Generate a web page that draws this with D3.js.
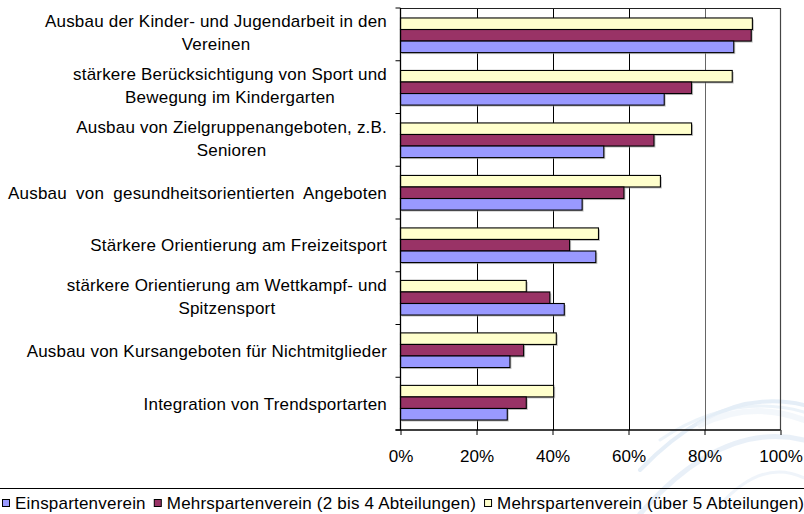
<!DOCTYPE html>
<html><head><meta charset="utf-8">
<script src="https://cdn.jsdelivr.net/npm/d3@7"></script>
<style>
body{margin:0;background:#fff;}
svg text{font-family:"Liberation Sans",Arial,sans-serif;fill:#000;}
</style></head>
<body><svg id="c" width="804" height="514"></svg>
<script>
const categories = [
  ["Ausbau der Kinder- und Jugendarbeit in den","Vereinen"],
  ["stärkere Berücksichtigung von Sport und","Bewegung im Kindergarten"],
  ["Ausbau von Zielgruppenangeboten, z.B.","Senioren"],
  ["Ausbau von gesundheitsorientierten Angeboten"],
  ["Stärkere Orientierung am Freizeitsport"],
  ["stärkere Orientierung am Wettkampf- und","Spitzensport"],
  ["Ausbau von Kursangeboten für Nichtmitglieder"],
  ["Integration von Trendsportarten"]
];
const seriesNames = ["Mehrspartenverein (über 5 Abteilungen)","Mehrspartenverein (2 bis 4 Abteilungen)","Einspartenverein"];
const ueber5 = [92.6, 87.3, 76.6, 68.4, 52.1, 33.1, 41.0, 40.3];
const zweiBis4 = [92.3, 76.6, 66.7, 58.8, 44.5, 39.3, 32.4, 33.1];
const einsparten = [87.7, 69.4, 53.5, 47.8, 51.4, 43.1, 28.8, 28.1];
const seriesValues = [ueber5, zweiBis4, einsparten];
const colors = ["#FFFFCC","#993366","#9999FF"];
const xTicks = [0,20,40,60,80,100];
const legendOrder = [2,1,0];

const svg = d3.select("#c");
const L = 400.5, R = 780.5, T = 8, B = 430;
const FS = 17, LS = 0.2;

// faint background swooshes
const sw = svg.append("g").attr("fill","none").attr("stroke-linecap","round");
[[640,470,804,405,"#dae7f3",4],[660,440,804,412,"#e4eef7",3],[640,514,804,440,"#dfeaf5",5],[720,505,804,478,"#e8f0f8",3],[700,425,804,420,"#eef4fa",6]]
 .forEach(([x1,y1,x2,y2,c,w])=>{
   sw.append("path").attr("d",`M${x1},${y1} Q${(x1+x2)/2},${Math.min(y1,y2)-20} ${x2},${y2}`)
     .attr("stroke",c).attr("stroke-width",w).attr("opacity",0.7);
 });

const x = d3.scaleLinear().domain([0,100]).range([L,R]);
const y = d3.scaleBand().domain(d3.range(categories.length)).range([T,B]).paddingInner(0.34).paddingOuter(0.19);
const yStep = (B-T)/categories.length;
const ySub = d3.scaleBand().domain(d3.range(3)).range([0,y.bandwidth()]);

// gridlines
const gridColor = {20:"#000",40:"#000",60:"#000",80:"#666"};
svg.append("g").selectAll("line").data(xTicks.filter(t=>t>0&&t<100)).join("line")
  .attr("x1",d=>Math.round(x(d))+0.5).attr("x2",d=>Math.round(x(d))+0.5).attr("y1",T).attr("y2",B)
  .attr("stroke",d=>gridColor[d]).attr("stroke-width",1);
svg.append("line").attr("x1",L).attr("x2",R).attr("y1",T+0.5).attr("y2",T+0.5).attr("stroke","#222");
svg.append("line").attr("x1",R).attr("x2",R).attr("y1",T).attr("y2",B).attr("stroke","#444").attr("stroke-width",1.2);

// bars
seriesValues.forEach((vals,si)=>{
  const g = svg.append("g");
  g.selectAll("rect.sh").data(vals).join("rect").attr("class","sh")
    .attr("x",x(0)+1.5).attr("y",(d,i)=>y(i)+ySub(si)+1.5)
    .attr("width",d=>x(d)-x(0)).attr("height",ySub.bandwidth())
    .attr("fill","#999").attr("opacity",0.6);
  g.selectAll("rect.b").data(vals).join("rect").attr("class","b")
    .attr("x",x(0)).attr("y",(d,i)=>y(i)+ySub(si))
    .attr("width",d=>x(d)-x(0)).attr("height",ySub.bandwidth())
    .attr("fill",colors[si]).attr("stroke","#000").attr("stroke-width",1.1);
});

// x axis
const xa = svg.append("g").attr("transform",`translate(0,${B})`)
  .call(d3.axisBottom(x).tickValues(xTicks).tickFormat(d=>d+"%").tickSize(5).tickPadding(15));
xa.select(".domain").attr("stroke","#000").attr("stroke-width",1.3).attr("d",`M${L-5},0H${R}`);
xa.selectAll("line").attr("stroke","#000");
xa.selectAll("text").attr("font-size",FS).attr("font-family","Liberation Sans, Arial, sans-serif").attr("fill","#000");

// y axis line and ticks
svg.append("line").attr("x1",L).attr("x2",L).attr("y1",T).attr("y2",B).attr("stroke","#000").attr("stroke-width",1.3);
svg.append("g").selectAll("line").data(d3.range(categories.length+1)).join("line")
  .attr("x1",L-5).attr("x2",L).attr("y1",d=>T+d*yStep).attr("y2",d=>T+d*yStep).attr("stroke","#000");

// category labels
const labRight = 387, lineH = 23;
categories.forEach((lines,i)=>{
  const cy = T + (i+0.5)*yStep;
  const g = svg.append("g");
  const texts = lines.map((ln,k)=>g.append("text").text(ln).attr("font-size",FS).attr("letter-spacing",LS)
     .attr("y",cy + (k-(lines.length-1)/2)*lineH - (lines.length>1?1.5:0)).attr("dy","0.35em"));
  const w = d3.max(texts,t=>t.node().getComputedTextLength());
  texts.forEach(t=>t.attr("x",labRight - w/2).attr("text-anchor","middle"));
  if(i===3){ // justified line
    const t = texts[0]; const nat = t.node().getComputedTextLength();
    const target = labRight - 8;
    t.attr("word-spacing",Math.max(0,(target-nat)/3)).attr("x",labRight).attr("text-anchor","end");
  }
});

// legend separator
svg.append("line").attr("x1",0).attr("x2",804).attr("y1",488.5).attr("y2",488.5).attr("stroke","#000").attr("stroke-width",1);
// legend
let lx = 2;
legendOrder.forEach(si=>{
  svg.append("rect").attr("x",lx+0.5).attr("y",499.5).attr("width",7).attr("height",7)
    .attr("fill",colors[si]).attr("stroke","#000").attr("stroke-width",1);
  const t = svg.append("text").attr("x",lx+13).attr("y",503).attr("dy","0.35em").attr("font-size",FS).attr("letter-spacing",LS).text(seriesNames[si]);
  lx += 13 + t.node().getComputedTextLength() + 8;
});
</script></body></html>
